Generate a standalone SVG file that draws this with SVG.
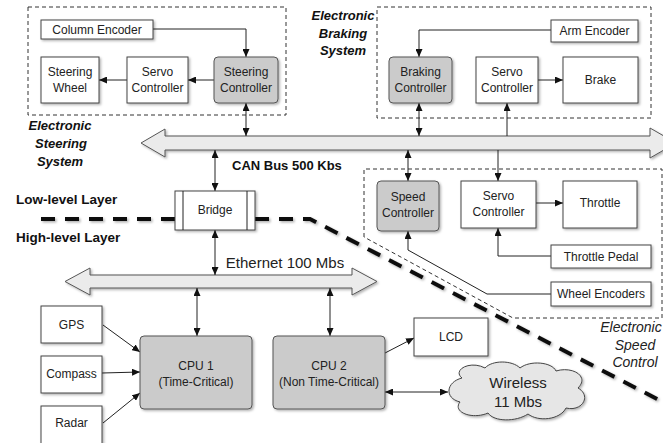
<svg xmlns="http://www.w3.org/2000/svg" width="663" height="443" viewBox="0 0 663 443">
<defs>
<style>
.bx{fill:#fff;stroke:#444;stroke-width:1}
.gx{fill:#cbcbcb;stroke:#555;stroke-width:1}
.t{font-family:"Liberation Sans",Arial,sans-serif;font-size:12px;fill:#222;text-anchor:middle}
.ln{fill:none;stroke:#222;stroke-width:1}
.dsh{fill:none;stroke:#333;stroke-width:1;stroke-dasharray:4 3}
.bus{fill:#ebebeb;stroke:#555;stroke-width:1}
.lbl{font-family:"Liberation Sans",Arial,sans-serif;font-weight:bold;fill:#111}
.sys{font-family:"Liberation Sans",Arial,sans-serif;font-weight:bold;font-style:italic;font-size:13px;fill:#111;text-anchor:middle}
.esc{font-family:"Liberation Sans",Arial,sans-serif;font-style:italic;font-size:14px;fill:#222;text-anchor:middle}
</style>
<marker id="ah" markerUnits="userSpaceOnUse" markerWidth="8" markerHeight="7" refX="8" refY="3.5" orient="auto-start-reverse">
<path d="M0,0 L8,3.5 L0,7 z" fill="#111"/>
</marker>
<filter id="sh" x="-10%" y="-10%" width="130%" height="140%">
<feDropShadow dx="1.5" dy="1.5" stdDeviation="1" flood-color="#000" flood-opacity="0.3"/>
</filter>
</defs>

<!-- system frames -->
<g id="steering-system">
<rect class="dsh" x="28" y="7" width="258" height="108"/>
<text class="sys" x="60" y="130">Electronic</text>
<text class="sys" x="61" y="148">Steering</text>
<text class="sys" x="60" y="166">System</text>
</g>
<g id="braking-system">
<rect class="dsh" x="377" y="7" width="274" height="111"/>
<text class="sys" x="343" y="20">Electronic</text>
<text class="sys" x="343" y="38">Braking</text>
<text class="sys" x="343" y="55">System</text>
</g>
<g id="speed-system">
<path class="dsh" d="M364 237 L364 169 L662 169 L662 318 L513 318 Z"/>
<text class="esc" x="631" y="332">Electronic</text>
<text class="esc" x="635" y="350">Speed</text>
<text class="esc" x="635" y="367">Control</text>
</g>

<!-- layer divider -->
<g id="layer-divider">
<path d="M41 219 L175 219 M255 219 L310 219 L663 402" fill="none" stroke="#111" stroke-width="4" stroke-dasharray="14 10" filter="url(#sh)"/>
<text class="lbl" x="16" y="204" font-size="13.5">Low-level Layer</text>
<text class="lbl" x="16" y="242" font-size="13.5">High-level Layer</text>
</g>

<!-- buses -->
<g id="can-bus">
<path class="bus" filter="url(#sh)" d="M141 143 L165 129 L165 136 L650 136 L650 128 L676 143 L650 158 L650 150 L165 150 L165 157 Z"/>
<text class="lbl" x="232" y="170" font-size="13">CAN Bus 500 Kbs</text>
</g>
<g id="ethernet-bus">
<path class="bus" filter="url(#sh)" d="M65 281.5 L90 268 L90 275 L352 275 L352 268 L377 281.5 L352 295 L352 288 L90 288 L90 295 Z"/>
<text x="285" y="268" font-family="Liberation Sans,Arial,sans-serif" font-size="15" fill="#222" text-anchor="middle">Ethernet 100 Mbs</text>
</g>

<!-- connectors -->
<g id="connectors">
<path class="ln" d="M153 29 L246 29 L246 57" marker-end="url(#ah)"/>
<path class="ln" d="M214 80 L188 80" marker-end="url(#ah)"/>
<path class="ln" d="M127 80 L99 80" marker-end="url(#ah)"/>
<path class="ln" d="M246 103 L246 136" marker-start="url(#ah)" marker-end="url(#ah)"/>
<path class="ln" d="M551 30 L419 30 L419 57" marker-end="url(#ah)"/>
<path class="ln" d="M538 80 L563 80" marker-end="url(#ah)"/>
<path class="ln" d="M419 103 L419 136" marker-start="url(#ah)" marker-end="url(#ah)"/>
<path class="ln" d="M507 136 L507 103" marker-end="url(#ah)"/>
<path class="ln" d="M408 150 L408 181" marker-start="url(#ah)" marker-end="url(#ah)"/>
<path class="ln" d="M498 150 L498 181" marker-end="url(#ah)"/>
<path class="ln" d="M536 203 L563 203" marker-end="url(#ah)"/>
<path class="ln" d="M551 256 L498 256 L498 228" marker-end="url(#ah)"/>
<path class="ln" d="M551 294 L487 294 L408 250 L408 231" marker-end="url(#ah)"/>
<path class="ln" d="M215 150 L215 191" marker-start="url(#ah)" marker-end="url(#ah)"/>
<path class="ln" d="M215 230 L215 275" marker-start="url(#ah)" marker-end="url(#ah)"/>
<path class="ln" d="M197 288 L197 336" marker-start="url(#ah)" marker-end="url(#ah)"/>
<path class="ln" d="M330 288 L330 336" marker-start="url(#ah)" marker-end="url(#ah)"/>
<path class="ln" d="M103 325 L140 352" marker-end="url(#ah)"/>
<path class="ln" d="M102 373 L140 372" marker-end="url(#ah)"/>
<path class="ln" d="M103 423 L140 393" marker-end="url(#ah)"/>
<path class="ln" d="M385 353 L414 338" marker-end="url(#ah)"/>
<path class="ln" d="M385 392 L448 392" marker-start="url(#ah)" marker-end="url(#ah)"/>
</g>

<!-- nodes -->
<g id="column-encoder"><rect class="bx" filter="url(#sh)" x="41" y="20" width="112" height="19"/><text class="t" x="97" y="34">Column Encoder</text></g>
<g id="steering-wheel"><rect class="bx" filter="url(#sh)" x="41" y="57" width="58" height="46"/><text class="t" x="70" y="76">Steering</text><text class="t" x="70" y="92">Wheel</text></g>
<g id="steering-servo"><rect class="bx" filter="url(#sh)" x="127" y="57" width="61" height="46"/><text class="t" x="157.5" y="76">Servo</text><text class="t" x="157.5" y="92">Controller</text></g>
<g id="steering-controller"><rect class="gx" filter="url(#sh)" x="214" y="57" width="64" height="46" rx="4"/><text class="t" x="246" y="76">Steering</text><text class="t" x="246" y="92">Controller</text></g>

<g id="arm-encoder"><rect class="bx" filter="url(#sh)" x="551" y="20" width="87" height="22"/><text class="t" x="594.5" y="35">Arm Encoder</text></g>
<g id="braking-controller"><rect class="gx" filter="url(#sh)" x="389" y="57" width="63" height="46" rx="4"/><text class="t" x="420.5" y="76">Braking</text><text class="t" x="420.5" y="92">Controller</text></g>
<g id="braking-servo"><rect class="bx" filter="url(#sh)" x="476" y="57" width="62" height="46"/><text class="t" x="507" y="76">Servo</text><text class="t" x="507" y="92">Controller</text></g>
<g id="brake"><rect class="bx" filter="url(#sh)" x="563" y="57" width="75" height="46"/><text class="t" x="600.5" y="84">Brake</text></g>

<g id="speed-controller"><rect class="gx" filter="url(#sh)" x="377" y="181" width="62" height="50" rx="4"/><text class="t" x="408" y="201">Speed</text><text class="t" x="408" y="217">Controller</text></g>
<g id="speed-servo"><rect class="bx" filter="url(#sh)" x="461" y="181" width="75" height="47"/><text class="t" x="498.5" y="200">Servo</text><text class="t" x="498.5" y="216">Controller</text></g>
<g id="throttle"><rect class="bx" filter="url(#sh)" x="563" y="181" width="74" height="47"/><text class="t" x="600" y="207">Throttle</text></g>
<g id="throttle-pedal"><rect class="bx" filter="url(#sh)" x="551" y="245" width="100" height="23"/><text class="t" x="601" y="261">Throttle Pedal</text></g>
<g id="wheel-encoders"><rect class="bx" filter="url(#sh)" x="551" y="282" width="100" height="24"/><text class="t" x="601" y="298">Wheel Encoders</text></g>

<g id="bridge"><rect class="bx" filter="url(#sh)" x="175" y="191" width="80" height="39"/><path class="ln" d="M183 191 L183 230 M247 191 L247 230" stroke="#444"/><text class="t" x="215" y="214">Bridge</text></g>

<g id="gps"><rect class="bx" filter="url(#sh)" x="41" y="306" width="61" height="37"/><text class="t" x="71.5" y="329">GPS</text></g>
<g id="compass"><rect class="bx" filter="url(#sh)" x="41" y="356" width="61" height="37"/><text class="t" x="71.5" y="378">Compass</text></g>
<g id="radar"><rect class="bx" filter="url(#sh)" x="41" y="406" width="61" height="40"/><text class="t" x="71.5" y="427">Radar</text></g>
<g id="cpu1"><rect class="gx" filter="url(#sh)" x="140" y="336" width="112" height="73" rx="4"/><text class="t" x="196" y="370">CPU 1</text><text class="t" x="196" y="386">(Time-Critical)</text></g>
<g id="cpu2"><rect class="gx" filter="url(#sh)" x="273" y="336" width="112" height="73" rx="4"/><text class="t" x="329" y="370">CPU 2</text><text class="t" x="329" y="386">(Non Time-Critical)</text></g>
<g id="lcd"><rect class="bx" filter="url(#sh)" x="414" y="318" width="74" height="38"/><text class="t" x="451" y="341">LCD</text></g>
<g id="wireless">
<path filter="url(#sh)" fill="#e6e6e6" stroke="#444" stroke-width="1" d="M462 378 C452 370 470 360 485 368 C492 360 512 360 520 368 C530 360 552 362 556 371 C572 366 590 376 578 388 C592 396 582 412 566 408 C560 420 538 422 528 414 C516 422 494 422 488 413 C472 420 452 412 460 402 C444 398 446 382 462 378 Z"/>
<text x="518" y="388" font-family="Liberation Sans,Arial,sans-serif" font-size="15" fill="#222" text-anchor="middle">Wireless</text>
<text x="518" y="407" font-family="Liberation Sans,Arial,sans-serif" font-size="15" fill="#222" text-anchor="middle">11 Mbs</text>
</g>
</svg>
